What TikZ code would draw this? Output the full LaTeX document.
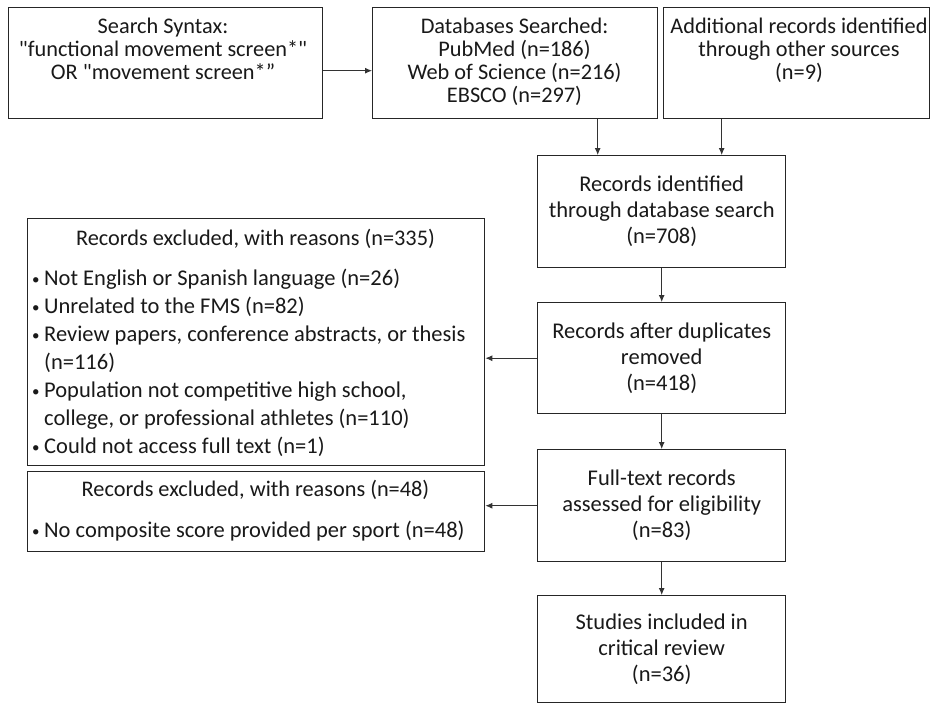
\documentclass[tikz,border=0pt]{standalone}
\usepackage{fontspec}
\usepackage{graphicx}
\setmainfont{Carlito}[Ligatures=TeXOff]
\usetikzlibrary{arrows.meta}
\newcommand{\bul}{\makebox[12pt][l]{\raisebox{0.5pt}{\fontsize{15}{15}\selectfont •}}}
\newcommand{\nobul}{\makebox[12pt][l]{}}
\begin{document}
\begin{tikzpicture}[x=1pt,y=-1pt,
  box/.style={draw=black!85, line width=1.4pt, inner sep=0pt, anchor=north west},
  toptxt/.style={font=\fontsize{22.3}{23}\selectfont, align=center, inner sep=0pt, anchor=north, text=black!90},
  coltxt/.style={font=\fontsize{22.5}{26}\selectfont, align=center, text=black!90},
  lefttxt/.style={font=\fontsize{22.5}{28}\selectfont, align=left, inner sep=0pt, anchor=north west, text=black!90},
  arr/.style={-{Latex[length=7pt,width=6pt]}, line width=0.9pt, draw=black!80}]
\useasboundingbox (0,0) rectangle (931,704);
\fill[white] (0,0) rectangle (931,704);
% top row
\node[box, minimum width=314pt, minimum height=111pt] (b1) at (8,7) {};
\node[box, minimum width=285pt, minimum height=111pt] (b2) at (372,7) {};
\node[box, minimum width=266pt, minimum height=111pt] (b3) at (663,7) {};
\node[toptxt] (t1) at (163,18) {Search Syntax:\\"functional movement screen*"\\OR "movement screen*”};
\node[toptxt] (t2) at (514.5,18) {Databases Searched:\\PubMed (n=186)\\Web of Science (n=216)\\EBSCO (n=297)};
\node[toptxt] (t3) at (799,18) {Additional records identified\\through other sources\\(n=9)};
% right column
\node[box, coltxt, minimum width=248pt, minimum height=112pt] (b4) at (537,155) {Records identified\\through database search\\(n=708)};
\node[box, coltxt, minimum width=248pt, minimum height=111pt] (b5) at (537,302) {Records after duplicates\\removed\\(n=418)};
\node[box, coltxt, minimum width=248pt, minimum height=112pt] (b6) at (537,449) {Full-text records\\assessed for eligibility\\(n=83)};
\node[box, coltxt, minimum width=248pt, minimum height=107pt] (b7) at (537,595) {Studies included in\\critical review\\(n=36)};
% left boxes
\node[box, minimum width=457pt, minimum height=247pt] (e1) at (27,218) {};
\node[box, minimum width=457pt, minimum height=80pt] (e2) at (27,471) {};
\node[toptxt] (e1t) at (255.5,229) {Records excluded, with reasons (n=335)};
\node[lefttxt] (e1l) at (32,268.5) {\bul Not English or Spanish language (n=26)\\
\bul Unrelated to the FMS (n=82)\\
\bul Review papers, conference abstracts, or thesis\\
\nobul (n=116)\\
\bul Population not competitive high school,\\
\nobul college, or professional athletes (n=110)\\
\bul Could not access full text (n=1)};
\node[toptxt] (e2t) at (255.5,480) {Records excluded, with reasons (n=48)};
\node[lefttxt] (e2l) at (32,520.5) {\bul No composite score provided per sport (n=48)};
% connectors
\draw[arr] ([yshift=-7.5pt]b1.east) -- ([yshift=-7.5pt]b1.east -| b2.west);
\draw[arr] ([xshift=82.5pt]b2.south) -- ([xshift=82.5pt]b2.south |- b4.north);
\draw[arr] ([xshift=-75pt]b3.south) -- ([xshift=-75pt]b3.south |- b4.north);
\draw[arr] (b4.south) -- (b5.north);
\draw[arr] (b5.south) -- (b6.north);
\draw[arr] (b6.south) -- (b7.north);
\draw[arr] (b5.west) -- (b5.west -| e1.east);
\draw[arr] (b6.west) -- (b6.west -| e2.east);
\end{tikzpicture}
\end{document}
